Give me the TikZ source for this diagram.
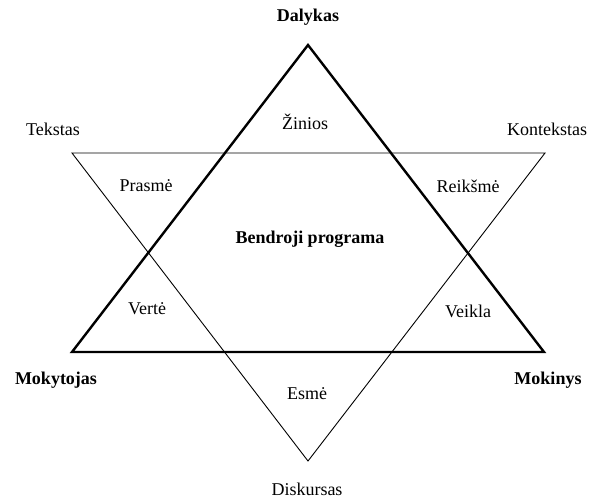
\documentclass[tikz,border=0pt]{standalone}
\usepackage{fontspec}
\setmainfont{Liberation Serif}
\begin{document}
\begin{tikzpicture}[x=1pt,y=-1pt,
  thick tri/.style={line width=2.4pt,line join=miter},
  thin tri/.style={line width=0.9pt,line join=miter},
  lbl/.style={font=\fontsize{18}{20}\selectfont,inner sep=0pt},
  blbl/.style={font=\fontsize{18}{20}\selectfont\bfseries,inner sep=0pt}]
\useasboundingbox (0,0) rectangle (589,499);
% thin triangle
\coordinate (tl) at (72,153);
\coordinate (tr) at (545,153);
\coordinate (tb) at (308,461);
\draw[thin tri] (tl) -- (tr) -- (tb) -- cycle;
% thick triangle
\coordinate (ka) at (308,45);
\coordinate (kl) at (72,352);
\coordinate (kr) at (544,352);
\draw[thick tri] (ka) -- (kr) -- (kl) -- cycle;
% outer labels
\node[blbl] (dal) at (308,17) {Dalykas};
\node[lbl] (tek) at (53,129) {Tekstas};
\node[lbl] (kon) at (547,129) {Kontekstas};
\node[blbl] (mok) at (56,380) {Mokytojas};
\node[blbl] (mkn) at (548,380) {Mokinys};
\node[lbl] (dis) at (307,489) {Diskursas};
% inner labels
\node[lbl] (zin) at (305,122) {Žinios};
\node[lbl] (pra) at (146,186) {Prasmė};
\node[lbl] (rei) at (468,186) {Reikšmė};
\node[blbl] (ben) at (310,239) {Bendroji programa};
\node[lbl] (ver) at (147,309) {Vertė};
\node[lbl] (vei) at (468,311) {Veikla};
\node[lbl] (esm) at (307,394) {Esmė};
\end{tikzpicture}
\end{document}
